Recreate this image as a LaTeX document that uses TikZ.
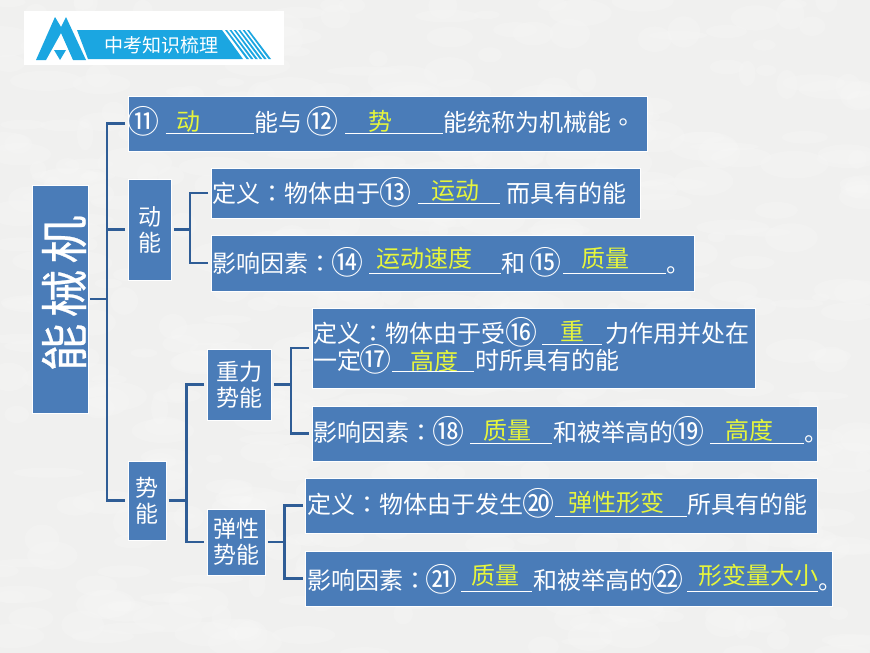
\documentclass[tikz,border=0pt]{standalone}
\usepackage{fontspec}
\setmainfont{Noto Sans CJK SC}
\newfontfamily\tcfont{Noto Sans CJK TC}
\newfontfamily\mainlabelfont[FakeBold=0.5]{Noto Sans CJK SC}
\newcommand\cln{{\tcfont ：}}
\definecolor{boxblue}{HTML}{4A7CB8}
\definecolor{linkblue}{HTML}{2F5D96}
\definecolor{bgray}{HTML}{F0F0EF}
\definecolor{ansyellow}{HTML}{E6F53C}
\definecolor{logoblue}{HTML}{1BA6E1}
\tikzset{
  boxn/.style={fill=boxblue,draw=white,line width=.9pt,inner sep=0pt,text=white,align=center,
    font=\fontsize{23}{26}\selectfont},
  link/.style={draw=linkblue,line width=2.2pt,line join=miter},
  txt/.style={anchor=base west,inner sep=0pt,text=white,yshift=-9pt,font=\fontsize{24}{26}\selectfont},
  num/.style={anchor=base west,inner sep=0pt,text=white,xshift=-2.2pt,yshift=-11.6pt,font=\fontsize{32}{33}\selectfont},
  ans/.style={anchor=base,inner sep=0pt,text=ansyellow,yshift=-9pt,font=\fontsize{24}{26}\selectfont},
  uline/.style={draw=white,line width=1pt},
}
\newcommand\tx[4]{\node[txt] (#1) at (#2,#3) {#4};}
\newcommand\nm[4]{\node[num] (#1) at (#2,#3) {#4};}
\begin{document}
\begin{tikzpicture}[x=1pt,y=-1pt]
\useasboundingbox (0,0) rectangle (870,653);
\fill[bgray] (0,0) rectangle (870,653);
% mottled paper
\pgfmathsetseed{11}
\foreach \i in {1,...,500}{
  \pgfmathsetmacro{\px}{rnd*870}
  \pgfmathsetmacro{\py}{rnd*653}
  \pgfmathsetmacro{\rx}{8+rnd*30}
  \pgfmathsetmacro{\ry}{4+rnd*12}
  \fill[white,opacity=.14] (\px,\py) ellipse [x radius=\rx,y radius=\ry];
}
% logo
\fill[white] (24,11) rectangle (284,65);
\fill[logoblue] (36,60) -- (55,17) -- (61,27) -- (66,17) -- (86,60) -- (73,60) -- (61,33) -- (46,60) -- cycle;
\fill[logoblue] (54,50) -- (66,50) -- (60,60) -- cycle;
\fill[logoblue] (77,30) -- (222,30) -- (243,59) -- (88,59) -- cycle;
\foreach \a in {0,1,2,3,4,5}{
  \fill[logoblue] (225+\a*4.4,30) -- (227+\a*4.4,30) -- (249+\a*4.4,59) -- (246.5+\a*4.4,59) -- cycle;
}
\node[inner sep=0pt,text=white,font=\fontsize{19}{20}\selectfont] (logotext) at (161.5,45) {中考知识梳理};

% boxes
\node[boxn,minimum width=56pt,minimum height=228pt] (main) at (60,299) {};
\node[boxn,minimum width=519pt,minimum height=55pt] (top) at (387.5,123.5) {};
\node[boxn,minimum width=43pt,minimum height=101pt] (dong) at (149.5,229.5) {动\\能};
\node[boxn,minimum width=38pt,minimum height=79pt] (shi) at (147,500.5) {势\\能};
\node[boxn,minimum width=64pt,minimum height=71pt] (zhong) at (239,384.5) {重力\\势能};
\node[boxn,minimum width=58pt,minimum height=66pt] (tan) at (236,542) {弹性\\势能};
\node[boxn,minimum width=429pt,minimum height=50pt] (d1) at (425.5,193) {};
\node[boxn,minimum width=483pt,minimum height=56pt] (d2) at (452.5,263) {};
\node[boxn,minimum width=443pt,minimum height=80pt] (z1) at (533.5,348) {};
\node[boxn,minimum width=505pt,minimum height=55pt] (z2) at (564.5,433.5) {};
\node[boxn,minimum width=511.5pt,minimum height=55pt] (t1) at (561.25,505.5) {};
\node[boxn,minimum width=526.5pt,minimum height=55pt] (t2) at (568.75,578.5) {};
\node[rotate=90,inner sep=0pt,text=white,font=\fontsize{48}{50}\mainlabelfont] (mainlabel) at (64,293.5) {能\hspace{6pt}械\hspace{6pt}机};

% connectors
\coordinate (j0) at (107,299);
\coordinate (j1) at (190,229.5);
\coordinate (j2) at (186.5,500.5);
\coordinate (j3) at (291,384.5);
\coordinate (j4) at (284.5,542);
\draw[link] ([xshift=2pt]main.east) -- (j0);
\draw[link] ([xshift=-2.5pt]top.west) -| (j0) |- ([xshift=-2.5pt]shi.west);
\draw[link] (j0 |- dong.west) -- ([xshift=-2.5pt]dong.west);
\draw[link] ([xshift=2.5pt]dong.east) -- (j1);
\draw[link] ([xshift=-2.5pt]d1.west) -| (j1) |- ([xshift=-2.5pt]d2.west);
\draw[link] ([xshift=2.5pt]shi.east) -- (j2);
\draw[link] ([xshift=-2.5pt]zhong.west) -| (j2) |- ([xshift=-2.5pt]tan.west);
\draw[link] ([xshift=2.5pt]zhong.east) -- (j3);
\draw[link] ([xshift=-2.5pt]z1.west) -| (j3) |- ([xshift=-2.5pt]z2.west);
\draw[link] ([xshift=2.5pt]tan.east) -- (j4);
\draw[link] ([xshift=-2.5pt]t1.west) -| (j4) |- ([xshift=-2.5pt]t2.west);

% row 1
\nm{n11}{129.5}{122}{⑪}
\node[ans] (a11) at (188,121) {动};
\draw[uline] (165.5,133) -- (254,133);
\tx{r1a}{254}{122}{能与}
\nm{n12}{308.5}{122}{⑫}
\node[ans] (a12) at (380,121) {势};
\draw[uline] (345,133) -- (443,133);
\tx{r1b}{443}{122}{能统称为机械能}
\node[txt] (r1c) at (611,122) {{\tcfont 。}};

% row 13
\tx{r2a}{212}{193}{定义\cln 物体由于}
\nm{n13}{381.5}{193}{⑬}
\node[ans] (a13) at (455,190) {运动};
\draw[uline] (418,203) -- (500,203);
\tx{r2b}{506}{193}{而具有的能}

% row 14
\tx{r3a}{212}{263}{影响因素\cln}
\nm{n14}{333.5}{263}{⑭}
\node[ans] (a14) at (424,258) {运动速度};
\draw[uline] (369,273) -- (501,273);
\tx{r3b}{501}{263}{和}
\nm{n15}{531.5}{263}{⑮}
\node[ans] (a15) at (605,258) {质量};
\draw[uline] (563,273) -- (666,273);
\tx{r3c}{666}{263}{。}

% row 16
\tx{r4a}{313}{333}{定义\cln 物体由于受}
\nm{n16}{507.5}{333}{⑯}
\node[ans] (a16) at (572,331) {重};
\draw[uline] (542,344) -- (602,344);
\tx{r4b}{605}{333}{力作用并处在}
\tx{r5a}{313}{360}{一定}
\nm{n17}{361.5}{360}{⑰}
\node[ans] (a17) at (434,361) {高度};
\draw[uline] (392,371) -- (474,371);
\tx{r5b}{475}{360}{时所具有的能}

% row 18
\tx{r6a}{313}{432}{影响因素\cln}
\nm{n18}{434}{432}{⑱}
\node[ans] (a18) at (507,430) {质量};
\draw[uline] (470,443) -- (552,443);
\tx{r6b}{553}{432}{和被举高的}
\nm{n19}{674.5}{432}{⑲}
\node[ans] (a19) at (749,430) {高度};
\draw[uline] (710,443) -- (804,443);
\tx{r6c}{804}{432}{。}

% row 20
\tx{r7a}{307}{504}{定义\cln 物体由于发生}
\nm{n20}{524.5}{504}{⑳}
\node[ans] (a20) at (616,502) {弹性形变};
\draw[uline] (555,516) -- (687,516);
\tx{r7b}{687}{504}{所具有的能}

% row 21
\tx{r8a}{307}{580}{影响因素\cln}
\nm{n21}{427.5}{580}{㉑}
\node[ans] (a21) at (495.5,575) {质量};
\draw[uline] (461,591) -- (532,591);
\tx{r8b}{533}{580}{和被举高的}
\nm{n22}{653}{580}{㉒}
\node[ans] (a22) at (758,575) {形变量大小};
\draw[uline] (687,591) -- (818,591);
\tx{r8c}{818}{580}{。}
\end{tikzpicture}
\end{document}
